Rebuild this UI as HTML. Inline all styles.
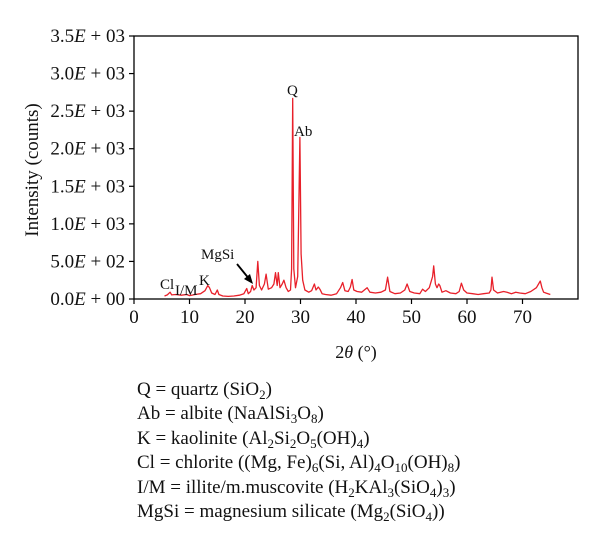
<!DOCTYPE html>
<html><head><meta charset="utf-8">
<style>
body{margin:0;background:#fff;width:600px;height:546px;overflow:hidden}
svg text{font-family:"Liberation Serif",serif;fill:#111}
.leg{font-family:"Liberation Serif",serif;font-size:19px;fill:#111}
</style></head><body>
<svg id="chart" width="600" height="546">
<g id="axes"></g>
<g id="series"></g>
<g id="annot">
<text x="287" y="95" font-size="15">Q</text>
<text x="294" y="136" font-size="15">Ab</text>
<text x="201" y="259" font-size="15">MgSi</text>
<text x="160" y="289" font-size="15">Cl</text>
<text x="175" y="295" font-size="15">I/M</text>
<text x="199" y="285" font-size="15">K</text>
<line x1="237" y1="264" x2="250" y2="280" stroke="#000" stroke-width="1.8"/>
<polygon points="253,284 244,279 250,274" fill="#000"/>
</g>
<text x="356" y="358" text-anchor="middle" font-size="18">2<tspan font-style="italic">θ</tspan> (°)</text>
<text transform="translate(38,170) rotate(-90)" text-anchor="middle" font-size="19">Intensity (counts)</text>
<g>
<text class="leg" x="137" y="395">Q = quartz (SiO<tspan font-size="13" dy="4">2</tspan><tspan dy="-4">)</tspan></text>
<text class="leg" x="137" y="419">Ab = albite (NaAlSi<tspan font-size="13" dy="4">3</tspan><tspan dy="-4">O</tspan><tspan font-size="13" dy="4">8</tspan><tspan dy="-4">)</tspan></text>
<text class="leg" x="137" y="444">K = kaolinite (Al<tspan font-size="13" dy="4">2</tspan><tspan dy="-4">Si</tspan><tspan font-size="13" dy="4">2</tspan><tspan dy="-4">O</tspan><tspan font-size="13" dy="4">5</tspan><tspan dy="-4">(OH)</tspan><tspan font-size="13" dy="4">4</tspan><tspan dy="-4">)</tspan></text>
<text class="leg" x="137" y="468">Cl = chlorite ((Mg, Fe)<tspan font-size="13" dy="4">6</tspan><tspan dy="-4">(Si, Al)</tspan><tspan font-size="13" dy="4">4</tspan><tspan dy="-4">O</tspan><tspan font-size="13" dy="4">10</tspan><tspan dy="-4">(OH)</tspan><tspan font-size="13" dy="4">8</tspan><tspan dy="-4">)</tspan></text>
<text class="leg" x="137" y="493">I/M = illite/m.muscovite (H<tspan font-size="13" dy="4">2</tspan><tspan dy="-4">KAl</tspan><tspan font-size="13" dy="4">3</tspan><tspan dy="-4">(SiO</tspan><tspan font-size="13" dy="4">4</tspan><tspan dy="-4">)</tspan><tspan font-size="13" dy="4">3</tspan><tspan dy="-4">)</tspan></text>
<text class="leg" x="137" y="517">MgSi = magnesium silicate (Mg<tspan font-size="13" dy="4">2</tspan><tspan dy="-4">(SiO</tspan><tspan font-size="13" dy="4">4</tspan><tspan dy="-4">))</tspan></text>
</g>
</svg>
<script>
const xTicks = [0,10,20,30,40,50,60,70];
const yTicks = [0,500,1000,1500,2000,2500,3000,3500];
const yTickLabels = ["0.0","5.0","1.0","1.5","2.0","2.5","3.0","3.5"];
const yTickExp = ["00","02","03","03","03","03","03","03"];
const twoTheta = [5.5,6.0,6.5,6.8,7.5,8.5,9.5,10.0,11,12,12.8,13.3,13.6,14.0,14.6,15.0,15.3,16,17,18,19,19.8,20.3,20.6,21.0,21.3,21.6,22.0,22.3,22.6,23.0,23.5,23.8,24.2,24.8,25.2,25.5,25.8,26.0,26.3,26.7,27.0,27.4,27.8,28.2,28.4,28.6,28.8,29.1,29.5,29.7,29.9,30.1,30.4,30.8,31.5,32.0,32.5,32.8,33.2,33.5,33.9,34.5,35.5,36.5,37.2,37.6,38.0,38.6,39.0,39.3,39.6,40.2,41.0,42.0,42.5,43.5,44.5,45.3,45.7,46.1,47,48,48.8,49.2,49.7,50.5,51.5,52.0,52.5,53.2,53.8,54.0,54.3,54.6,54.9,55.1,55.5,56.2,57,58,58.6,59.0,59.4,60,61,62,63,64,64.3,64.5,64.8,65.5,66.6,67.2,68,68.8,69.5,70.5,71.5,72.5,73.2,73.5,73.8,74.2,75.0,75.3];
const counts = [40,55,90,55,60,50,60,45,60,70,110,180,150,80,60,120,60,40,35,40,50,70,140,70,100,180,120,150,500,180,120,200,330,130,150,200,350,180,350,150,200,250,150,100,120,400,2670,400,150,300,1200,2150,600,250,120,90,110,200,120,160,130,70,60,50,70,150,220,110,100,160,260,120,100,90,150,90,80,90,120,290,100,70,80,120,200,100,80,70,130,100,150,300,440,200,150,200,180,90,110,80,70,100,210,120,80,70,60,70,80,120,290,120,80,100,90,70,90,80,70,100,150,240,150,90,80,60];
const NS="http://www.w3.org/2000/svg";
const X0=134,X1=578,Y0=299,Y1=36,XMAX=80,YMAX=3500;
function sx(v){return X0+(X1-X0)*v/XMAX;}
function sy(v){return Y0-(Y0-Y1)*v/YMAX;}
const axes=document.getElementById('axes');
function mk(tag,attrs,parent){const e=document.createElementNS(NS,tag);for(const k in attrs)e.setAttribute(k,attrs[k]);parent.appendChild(e);return e;}
const frame=mk('rect',{x:X0,y:Y1,width:X1-X0,height:Y0-Y1,fill:'none',stroke:'#000','stroke-width':1.3},axes);


xTicks.forEach(t=>{
  const l=mk('line',{x1:sx(t),x2:sx(t),y1:Y0,y2:Y0+5,stroke:'#000','stroke-width':1.2},axes);
  
  
  const tx=mk('text',{x:sx(t),y:Y0+24,'text-anchor':'middle','font-size':19},axes);
  tx.textContent=t;
  
  
});
yTicks.forEach((t,i)=>{
  const l=mk('line',{x1:X0-5,x2:X0,y1:sy(t),y2:sy(t),stroke:'#000','stroke-width':1.2},axes);
  
  
  const tx=mk('text',{x:X0-9,y:sy(t)+6,'text-anchor':'end','font-size':19},axes);
  tx.innerHTML=yTickLabels[i]+'<tspan font-style="italic">E</tspan> + '+yTickExp[i];
  
  
});
const pts=twoTheta.map((v,i)=>sx(v).toFixed(1)+','+sy(counts[i]).toFixed(1)).join(' ');
const pl=mk('polyline',{points:pts,fill:'none',stroke:'#e8202a','stroke-width':1.3,'stroke-linejoin':'round'},document.getElementById('series'));


</script>
</body></html>
